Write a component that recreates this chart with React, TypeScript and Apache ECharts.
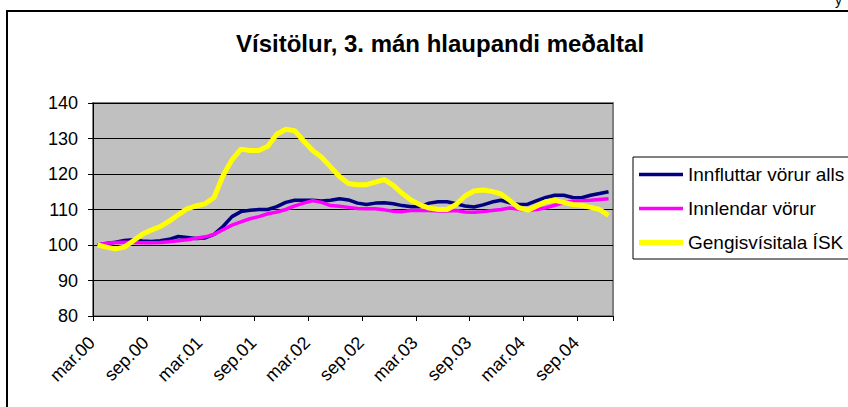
import React, { useEffect, useRef } from "react";
import * as echarts from "echarts";

const categories = [
  "mar.00","apr.00","maí.00","jún.00","júl.00","ágú.00","sep.00","okt.00","nóv.00","des.00",
  "jan.01","feb.01","mar.01","apr.01","maí.01","jún.01","júl.01","ágú.01","sep.01","okt.01","nóv.01","des.01",
  "jan.02","feb.02","mar.02","apr.02","maí.02","jún.02","júl.02","ágú.02","sep.02","okt.02","nóv.02","des.02",
  "jan.03","feb.03","mar.03","apr.03","maí.03","jún.03","júl.03","ágú.03","sep.03","okt.03","nóv.03","des.03",
  "jan.04","feb.04","mar.04","apr.04","maí.04","jún.04","júl.04","ágú.04","sep.04","okt.04","nóv.04","des.04",
];

const innfluttar = [
  100, 100.4, 100.8, 101.3, 101.5, 101.1, 101, 101.2, 101.6, 102.4,
  102.1, 101.8, 102, 103, 105.2, 108, 109.4, 109.8, 110, 110,
  110.8, 112, 112.6, 112.6, 112.6, 112.4, 112.6, 113, 112.7, 111.8,
  111.4, 111.8, 111.9, 111.6, 111.1, 110.8, 110.8, 111.8, 112.2, 112.2,
  111.6, 111, 110.7, 111.3, 112.1, 112.6, 111.9, 111.4, 111.5, 112.5,
  113.4, 114, 114, 113.4, 113.3, 114, 114.5, 115,
];

const innlendar = [
  100, 100.5, 100.7, 100.8, 100.7, 100.6, 100.6, 100.7, 100.9, 101.2,
  101.5, 101.9, 102.3, 103, 104.3, 105.6, 106.5, 107.4, 108, 108.8,
  109.3, 110, 111, 111.8, 112.5, 112, 111.1, 110.9, 110.6, 110.3,
  110.2, 110.2, 109.9, 109.5, 109.4, 109.7, 109.7, 109.7, 109.6, 109.6,
  109.7, 109.3, 109.2, 109.4, 109.7, 110, 110.4, 110.1, 109.8, 110,
  110.5, 111.2, 111.9, 112.3, 112.5, 112.6, 112.8, 113,
];

const gengi = [
  100, 99.4, 98.9, 99.4, 101.2, 103, 104.2, 105.2, 106.7, 108.5,
  110.2, 111, 111.6, 113.4, 119.5, 124, 127, 126.6, 126.6, 127.8,
  131.2, 132.6, 132.2, 129.3, 126.6, 124.7, 122, 119.3, 117.3, 117,
  117, 117.7, 118.4, 116.8, 114.5, 112.6, 111.3, 110.4, 110, 110,
  111.4, 113.8, 115.2, 115.5, 115.1, 114.4, 112.5, 110.5, 109.8, 111,
  112.2, 112.6, 112, 111.4, 111.2, 110.6, 110, 108.3,
];

const seriesNames = ["Innfluttar vörur alls", "Innlendar vörur", "Gengisvísitala ÍSK"];
const titleText = "Vísitölur, 3. mán hlaupandi meðaltal";

const FONT = "Liberation Sans, Arial, sans-serif";

export default function App() {
  const ref = useRef<HTMLDivElement>(null);
  useEffect(() => {
    if (!ref.current) return;
    const chart = echarts.init(ref.current, null, { renderer: "svg" });
    chart.setOption({
      animation: false,
      backgroundColor: "#ffffff",
      title: {
        text: titleText,
        left: 435,
        textAlign: "center",
        top: 26,
        textStyle: { fontFamily: FONT, fontSize: 24, fontWeight: "bold", color: "#000" },
      },
      graphic: [
        {
          type: "rect",
          shape: { x: 7, y: 11, width: 900, height: 500 },
          style: { fill: "none", stroke: "#000", lineWidth: 2 },
          silent: true,
        },
        {
          type: "rect",
          shape: { x: 633, y: 157, width: 260, height: 102 },
          style: { fill: "#fff", stroke: "#000", lineWidth: 1 },
          silent: true,
          z: 0,
        },
        {
          type: "text",
          x: 835,
          y: -7,
          style: { text: "y", fontFamily: FONT, fontSize: 14, fill: "#000" },
          silent: true,
        },
      ],
      legend: {
        orient: "vertical",
        left: 639,
        top: 165,
        itemWidth: 44,
        itemHeight: 14,
        itemGap: 15,
        padding: 0,
        z: 5,
        textStyle: { fontFamily: FONT, fontSize: 19, color: "#000" },
        data: [
          { name: seriesNames[0], icon: "path://M0,0H44V3.5H0Z" },
          { name: seriesNames[1], icon: "path://M0,0H44V3.5H0Z" },
          { name: seriesNames[2], icon: "path://M0,0H44V5H0Z" },
        ],
      },
      grid: {
        left: 93,
        top: 103,
        width: 520,
        height: 213,
        show: true,
        backgroundColor: "#C0C0C0",
        borderColor: "#808080",
        borderWidth: 2,
      },
      xAxis: {
        type: "category",
        data: categories,
        boundaryGap: true,
        axisLine: { show: true, lineStyle: { color: "#000", width: 1 } },
        axisTick: { show: true, interval: 5, length: 5, lineStyle: { color: "#000" } },
        axisLabel: {
          interval: 5,
          rotate: 45,
          fontFamily: FONT,
          fontSize: 18,
          color: "#000",
          margin: 18,
          padding: [0, 8, 0, 0],
        },
        splitLine: { show: false },
      },
      yAxis: {
        type: "value",
        min: 80,
        max: 140,
        interval: 10,
        axisLine: { show: true, lineStyle: { color: "#000", width: 1 } },
        axisTick: { show: true, length: 5, lineStyle: { color: "#000" } },
        axisLabel: { fontFamily: FONT, fontSize: 18, color: "#000", margin: 15 },
        splitLine: { show: true, lineStyle: { color: "#000", width: 1 } },
      },
      series: [
        {
          name: seriesNames[0],
          type: "line",
          data: innfluttar,
          symbol: "none",
          lineStyle: { color: "#000080", width: 3.5 },
          itemStyle: { color: "#000080" },
          z: 2,
        },
        {
          name: seriesNames[1],
          type: "line",
          data: innlendar,
          symbol: "none",
          lineStyle: { color: "#FF00FF", width: 3.5 },
          itemStyle: { color: "#FF00FF" },
          z: 3,
        },
        {
          name: seriesNames[2],
          type: "line",
          data: gengi,
          symbol: "none",
          lineStyle: { color: "#FFFF00", width: 5 },
          itemStyle: { color: "#FFFF00" },
          z: 4,
        },
      ],
    });
    return () => chart.dispose();
  }, []);
  return (
    <div
      ref={ref}
      style={{ position: "fixed", left: 0, top: 0, width: 848, height: 407 }}
    />
  );
}
